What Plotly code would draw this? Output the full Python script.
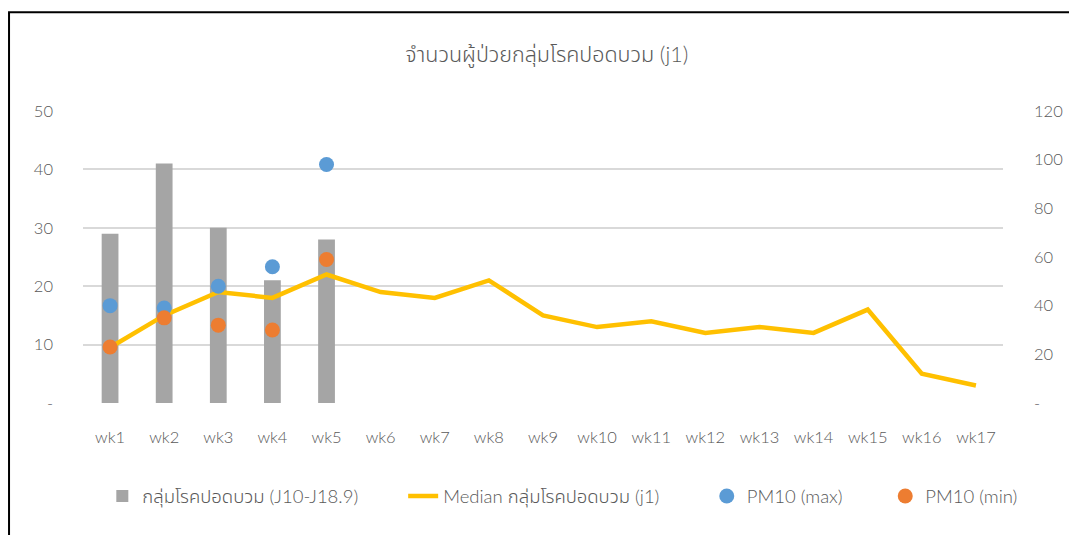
import plotly.graph_objects as go

weeks = [f"wk{i}" for i in range(1, 18)]
patients = [29, 41, 30, 21, 28]
median_j1 = [9.5, 15, 19, 18, 22, 19, 18, 21, 15, 13, 14, 12, 13, 12, 16, 5, 3]
pm10_max = [40, 39, 48, 56, 98]
pm10_min = [23, 35, 32, 30, 59]

left_ticks = [0, 10, 20, 30, 40, 50]
left_text = ["-", "10", "20", "30", "40", "50"]
right_ticks = [0, 20, 40, 60, 80, 100, 120]
right_text = ["-", "20", "40", "60", "80", "100", "120"]

names = ["กลุ่มโรคปอดบวม (J10-J18.9)", "Median กลุ่มโรคปอดบวม (j1)", "PM10 (max)", "PM10 (min)"]

FONT = "Lato, 'Noto Sans Thai', 'Noto Sans', 'DejaVu Sans', sans-serif"
GRAY = "#595959"
LIGHT = 300

fig = go.Figure()
fig.add_trace(go.Bar(x=weeks[:len(patients)], y=patients, name=names[0],
                     marker=dict(color="#A5A5A5", line=dict(width=0)), width=0.31,
                     yaxis="y", legend="legend"))
fig.add_trace(go.Scatter(x=weeks, y=median_j1, name=names[1], mode="lines",
                         line=dict(color="#FFC000", width=4.5), yaxis="y", legend="legend2"))
fig.add_trace(go.Scatter(x=weeks[:len(pm10_max)], y=pm10_max, name=names[2], mode="markers",
                         marker=dict(color="#5B9BD5", size=15), yaxis="y2", legend="legend3"))
fig.add_trace(go.Scatter(x=weeks[:len(pm10_min)], y=pm10_min, name=names[3], mode="markers",
                         marker=dict(color="#ED7D31", size=15), yaxis="y2", legend="legend4"))

def leg(x):
    return dict(orientation="h", yanchor="middle", y=-0.32, xanchor="left", x=x,
                font=dict(family=FONT, size=18.5, color=GRAY, weight=LIGHT),
                bgcolor="rgba(0,0,0,0)")

tickf = dict(family=FONT, size=16.5, color=GRAY, weight=LIGHT)

fig.update_layout(
    width=1069, height=527,
    margin=dict(l=75, r=74, t=103, b=132),
    paper_bgcolor="white", plot_bgcolor="white",
    font=dict(family=FONT, color=GRAY, size=16, weight=LIGHT),
    title=dict(text="จำนวนผู้ป่วยกลุ่มโรคปอดบวม (j1)", x=0.504, xanchor="center",
               y=0.911, yanchor="middle", font=dict(family=FONT, size=21.5, color=GRAY, weight=LIGHT)),
    xaxis=dict(categoryorder="array", categoryarray=weeks, showgrid=False,
               showline=False, ticks="", ticklabelstandoff=22,
               tickfont=tickf, range=[-0.5, 16.5]),
    yaxis=dict(range=[0, 50], tickvals=left_ticks, ticktext=left_text,
               showgrid=True, gridcolor="#D9D9D9", gridwidth=2, zeroline=False,
               showline=False, ticks="", ticklabelstandoff=29,
               tickfont=tickf),
    yaxis2=dict(range=[0, 120], tickvals=right_ticks, ticktext=right_text,
                overlaying="y", side="right", showgrid=False, zeroline=False,
                showline=False, ticks="", ticklabelstandoff=30,
                tickfont=tickf),
    legend=leg(0.021),
    legend2=leg(0.348),
    legend3=leg(0.678),
    legend4=leg(0.872),
    showlegend=True,
    shapes=[dict(type="rect", xref="paper", yref="paper",
                 x0=-0.0804, x1=1.2, y0=-1.0, y1=1.3385,
                 line=dict(color="black", width=2), fillcolor="rgba(0,0,0,0)", layer="below")],
)

fig.write_html("out.html")
